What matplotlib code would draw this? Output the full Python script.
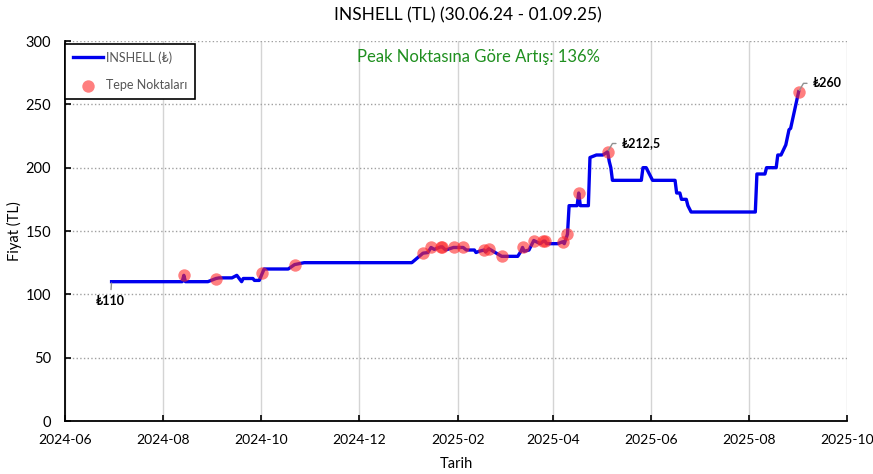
#INSHELL price chart with peak points
import datetime as dt
import numpy as np
import matplotlib
matplotlib.use('Agg')
import matplotlib.pyplot as plt
import matplotlib.dates as mdates

#fonts - Lato looks closest to the Calibri look, DejaVu for the lira sign
plt.rcParams['font.family'] = ['Lato', 'DejaVu Sans']
plt.rc('xtick', labelsize=10)
plt.rc('ytick', labelsize=10.5)

#price series
dates = ['2024-06-30', '2024-08-13', '2024-08-14', '2024-08-15', '2024-08-29',
         '2024-09-03', '2024-09-05', '2024-09-13', '2024-09-16', '2024-09-19',
         '2024-09-20', '2024-09-26', '2024-09-27', '2024-09-30', '2024-10-02',
         '2024-10-03', '2024-10-18', '2024-10-22', '2024-10-28', '2025-01-03',
         '2025-01-10', '2025-01-13', '2025-01-15', '2025-01-17', '2025-01-21',
         '2025-01-22', '2025-01-24', '2025-01-29', '2025-02-04', '2025-02-06',
         '2025-02-11', '2025-02-12', '2025-02-14', '2025-02-17', '2025-02-18',
         '2025-02-20', '2025-02-24', '2025-02-28', '2025-03-10', '2025-03-12',
         '2025-03-13', '2025-03-14', '2025-03-17', '2025-03-20', '2025-03-24',
         '2025-03-26', '2025-03-27', '2025-03-28', '2025-04-04', '2025-04-07',
         '2025-04-08', '2025-04-10', '2025-04-11', '2025-04-16', '2025-04-17',
         '2025-04-18', '2025-04-23', '2025-04-24', '2025-04-28', '2025-05-02',
         '2025-05-05', '2025-05-06', '2025-05-07', '2025-05-08', '2025-05-26',
         '2025-05-27', '2025-05-29', '2025-06-02', '2025-06-16', '2025-06-17',
         '2025-06-19', '2025-06-20', '2025-06-23', '2025-06-24', '2025-06-26',
         '2025-08-05', '2025-08-06', '2025-08-11', '2025-08-12', '2025-08-18',
         '2025-08-19', '2025-08-21', '2025-08-24', '2025-08-26', '2025-08-27',
         '2025-09-01']
prices = [110, 110, 115, 110, 110,
          112.5, 113, 113, 115, 110,
          112.5, 112.5, 111, 111, 117,
          120, 120, 123.5, 125, 125,
          132.5, 133, 137, 135.5, 137.5,
          137.5, 135, 137, 137, 135,
          135, 133, 134, 135, 133.5,
          136, 133, 130, 130, 134,
          137, 134, 135, 142.5, 140,
          142, 142, 140, 140, 141.5,
          140, 147.5, 170, 170, 180,
          170, 170, 208, 210, 210,
          212.5, 205, 200, 190, 190,
          200, 200, 190, 190, 180,
          180, 175, 175, 170, 165,
          165, 195, 195, 200, 200,
          210, 210, 218, 230, 231,
          260]

#peak points (red dots)
peak_dates = ['2024-08-14', '2024-09-03', '2024-10-02', '2024-10-22', '2025-01-10',
              '2025-01-15', '2025-01-21', '2025-01-22', '2025-01-29', '2025-02-04',
              '2025-02-17', '2025-02-20', '2025-02-28', '2025-03-13', '2025-03-20',
              '2025-03-26', '2025-03-27', '2025-04-07', '2025-04-10', '2025-04-17',
              '2025-05-05', '2025-09-01']
peak_prices = [115, 112.5, 117, 123.5, 132.5,
               137, 137.5, 137.5, 137, 137,
               135, 136, 130, 137, 142.5,
               142, 142, 141.5, 147.5, 180,
               212.5, 260]

#labelled points
label_dates = ['2024-06-30', '2025-05-05', '2025-09-01']
label_prices = [110, 212.5, 260]
label_texts = ['\u20ba110', '\u20ba212,5', '\u20ba260']

peak_gain = 136


def todate(s):
    return dt.datetime.strptime(s, '%Y-%m-%d')


x = [todate(d) for d in dates]
px = [todate(d) for d in peak_dates]
lx = [todate(d) for d in label_dates]

fig = plt.figure(figsize=(8.73, 4.74), dpi=100)
ax = fig.add_axes([0.0745, 0.1118, 0.8955, 0.8017])

ax.plot(x, prices, color='#0000ee', lw=2.4, label='INSHELL (\u20ba)', zorder=3)
ax.scatter(px, peak_prices, s=80, color='#ff2a2a', alpha=0.6, lw=0,
           label='Tepe Noktaları', zorder=4)

#point labels, gray leader line from point to text
offsets = [(-1, -14), (10, 6), (10, 6)]
for d, p, t, off in zip(lx, label_prices, label_texts, offsets):
    if off[0] < 0:
        ha = 'center'
        cs = 'arc3'
    else:
        ha = 'left'
        cs = 'angle,angleA=0,angleB=60,rad=0'
    ax.annotate(t, xy=(d, p), xytext=off, textcoords='offset points',
                ha=ha, va='center', fontsize=9, fontweight='bold',
                arrowprops=dict(arrowstyle='-', color='#909090', lw=1,
                                shrinkA=2, shrinkB=1, connectionstyle=cs),
                zorder=5)

fig.text(0.548, 0.88, 'Peak Noktasına Göre Artış: %d%%' % peak_gain,
         ha='center', va='center', fontsize=12, color='#1f8f1f')

ax.set_xlim(dt.datetime(2024, 6, 1), dt.datetime(2025, 10, 1))
ax.set_ylim(0, 300)
ax.xaxis.set_major_locator(mdates.MonthLocator(bymonth=[2, 4, 6, 8, 10, 12]))
ax.xaxis.set_major_formatter(mdates.DateFormatter('%Y-%m'))
ax.set_yticks(np.arange(0, 301, 50))

#grid: solid verticals, dotted horizontals
ax.grid(axis='x', color='#d4d4d4', lw=1, ls='-')
ax.grid(axis='y', color='#a0a0a0', lw=1, ls=':')
ax.set_axisbelow(True)

for side in ['top', 'right']:
    ax.spines[side].set_visible(False)
for side in ['left', 'bottom']:
    ax.spines[side].set_linewidth(1.3)
ax.tick_params(direction='in', length=4, width=1.2)
ax.tick_params(axis='x', pad=9)
ax.tick_params(axis='y', pad=10)

fig.text(0.536, 0.967, 'INSHELL (TL) (30.06.24 - 01.09.25)',
         ha='center', va='center', fontsize=12.5)
ax.set_xlabel('Tarih', fontsize=10.5, labelpad=8)
ax.set_ylabel('Fiyat (TL)', fontsize=10.5, va='center')
ax.yaxis.set_label_coords(-0.065, 0.5)

leg = ax.legend(loc='upper left', bbox_to_anchor=(0.0, 0.993), fontsize=9,
                fancybox=False, edgecolor='black', framealpha=1,
                labelspacing=1.25, handlelength=2.4, handletextpad=0.3,
                borderpad=0.6, borderaxespad=0)
leg.get_frame().set_linewidth(1.2)
for t in leg.get_texts():
    t.set_color('#555555')

fig.savefig('out.png', dpi=100)
